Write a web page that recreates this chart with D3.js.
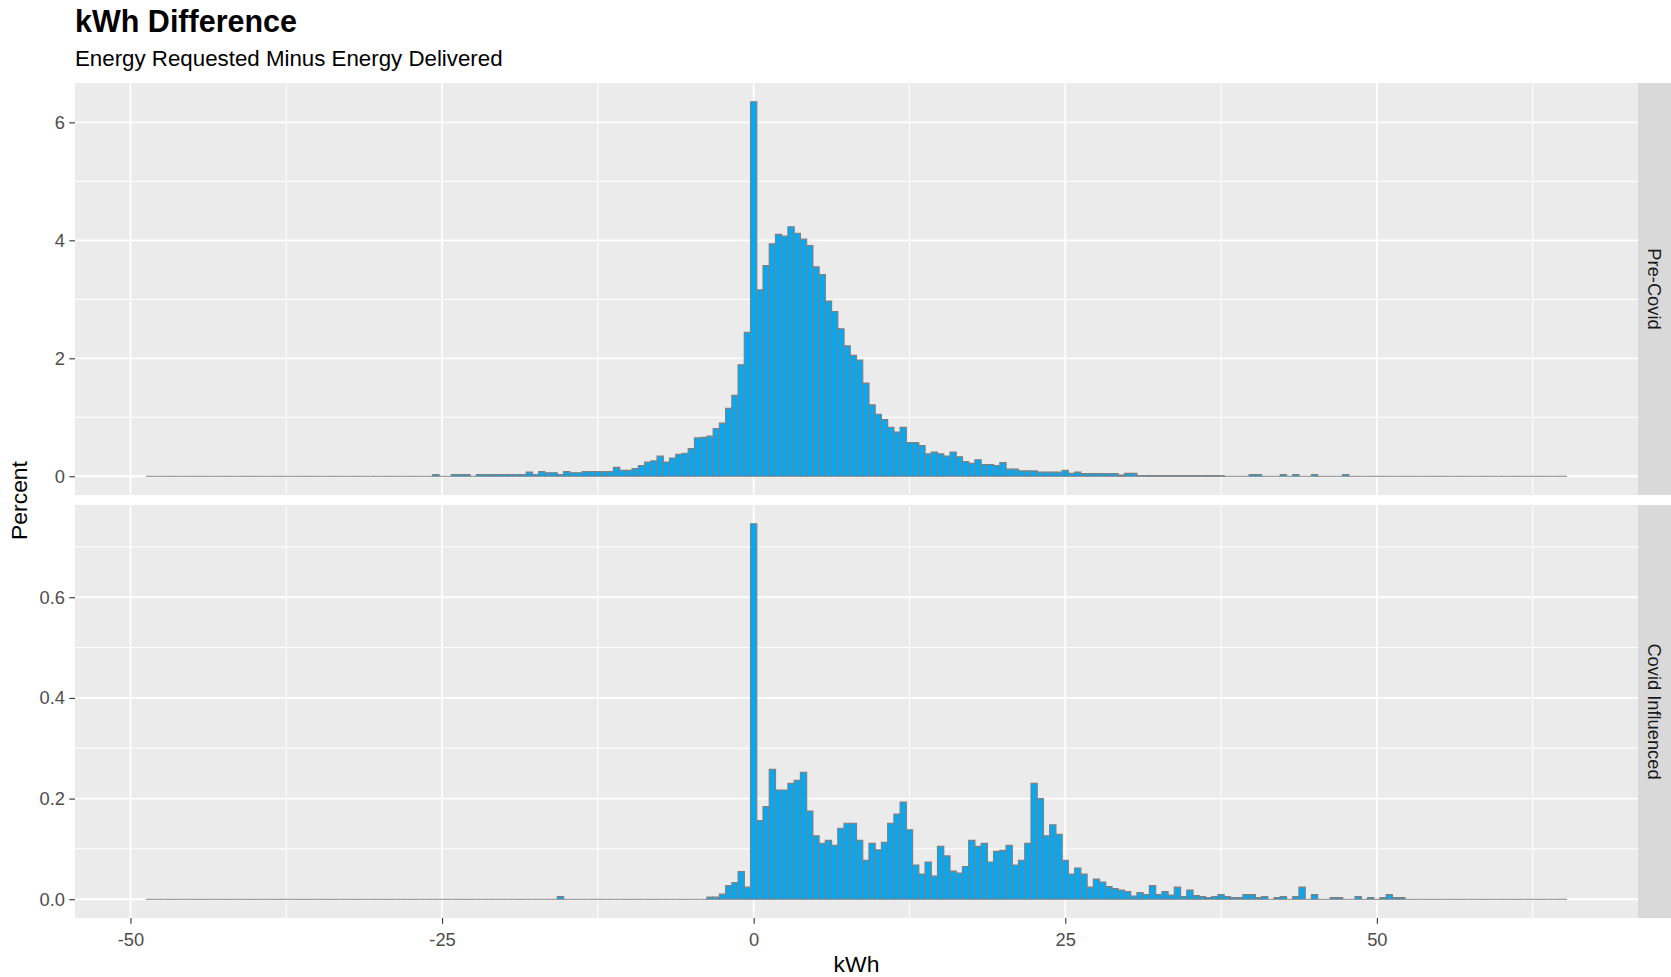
<!DOCTYPE html>
<html>
<head>
<meta charset="utf-8">
<script src="https://cdn.jsdelivr.net/npm/d3@7"></script>
<style>
  body { margin: 0; background: #fff; }
  text { font-family: "Liberation Sans", Arial, sans-serif; }
</style>
</head>
<body>
<svg id="chart"></svg>
<script>
// histogram bins: 0.5 kWh wide, first bin starts at -48.75
const binStart = -48.75;
const binWidth = 0.5;

// percent of sessions per bin, one line = 10 bins (5 kWh); first value of each line noted
const preCovid = [
  0, 0, 0, 0, 0, 0, 0, 0, 0, 0,                                   // -48.5
  0, 0, 0, 0, 0, 0, 0, 0, 0, 0,                                   // -43.5
  0, 0, 0, 0, 0, 0, 0, 0, 0, 0,                                   // -38.5
  0, 0, 0, 0, 0, 0, 0, 0, 0, 0,                                   // -33.5
  0, 0, 0, 0, 0, 0, 0.03, 0, 0, 0.03,                             // -28.5
  0.03, 0.03, 0, 0.03, 0.03, 0.03, 0.03, 0.03, 0.03, 0.03,        // -23.5
  0.03, 0.07, 0.03, 0.08, 0.06, 0.06, 0.03, 0.08, 0.06, 0.06,     // -18.5
  0.08, 0.08, 0.08, 0.08, 0.08, 0.15, 0.10, 0.10, 0.13, 0.18,     // -13.5
  0.24, 0.26, 0.34, 0.24, 0.31, 0.37, 0.39, 0.47, 0.65, 0.66,     // -8.5
  0.68, 0.81, 0.90, 1.15, 1.37, 1.89, 2.44, 6.35, 3.16, 3.57,     // -3.5
  3.94, 4.10, 4.07, 4.23, 4.12, 4.02, 3.91, 3.55, 3.42, 2.97,     // 1.5
  2.79, 2.50, 2.21, 2.05, 1.97, 1.58, 1.21, 1.05, 0.96, 0.83,     // 6.5
  0.75, 0.83, 0.57, 0.57, 0.52, 0.38, 0.41, 0.38, 0.34, 0.41,     // 11.5
  0.33, 0.25, 0.22, 0.28, 0.20, 0.20, 0.18, 0.23, 0.12, 0.12,     // 16.5
  0.09, 0.09, 0.09, 0.07, 0.07, 0.07, 0.07, 0.10, 0.05, 0.07,     // 21.5
  0.045, 0.045, 0.045, 0.045, 0.045, 0.045, 0.02, 0.05, 0.05, 0.01, // 26.5
  0.01, 0.01, 0.01, 0.01, 0.01, 0.01, 0.01, 0.01, 0.01, 0.01,     // 31.5
  0.01, 0.01, 0.01, 0, 0, 0, 0, 0.03, 0.03, 0,                    // 36.5
  0, 0, 0.03, 0, 0.03, 0, 0, 0.03, 0, 0,                          // 41.5
  0, 0, 0.03, 0, 0, 0, 0, 0, 0, 0,                                // 46.5
  0, 0, 0, 0, 0, 0, 0, 0, 0, 0,                                   // 51.5
  0, 0, 0, 0, 0, 0, 0, 0, 0, 0,                                   // 56.5
  0, 0, 0, 0, 0, 0, 0, 0                                          // 61.5
];

const covidInfluenced = [
  0, 0, 0, 0, 0, 0, 0, 0, 0, 0,                                   // -48.5
  0, 0, 0, 0, 0, 0, 0, 0, 0, 0,                                   // -43.5
  0, 0, 0, 0, 0, 0, 0, 0, 0, 0,                                   // -38.5
  0, 0, 0, 0, 0, 0, 0, 0, 0, 0,                                   // -33.5
  0, 0, 0, 0, 0, 0, 0, 0, 0, 0,                                   // -28.5
  0, 0, 0, 0, 0, 0, 0, 0, 0, 0,                                   // -23.5
  0, 0, 0, 0, 0, 0, 0.005, 0, 0, 0,                               // -18.5
  0, 0, 0, 0, 0, 0, 0, 0, 0, 0,                                   // -13.5
  0, 0, 0, 0, 0, 0, 0, 0, 0, 0,                                   // -8.5
  0.004, 0.004, 0.010, 0.027, 0.033, 0.055, 0.024, 0.746, 0.156, 0.184, // -3.5
  0.258, 0.217, 0.217, 0.230, 0.236, 0.252, 0.175, 0.126, 0.111, 0.117, // 1.5
  0.107, 0.141, 0.151, 0.151, 0.117, 0.077, 0.111, 0.098, 0.113, 0.151, // 6.5
  0.169, 0.193, 0.138, 0.068, 0.050, 0.074, 0.046, 0.105, 0.086, 0.056, // 11.5
  0.052, 0.065, 0.117, 0.105, 0.111, 0.074, 0.095, 0.097, 0.107, 0.068, // 16.5
  0.077, 0.111, 0.230, 0.200, 0.126, 0.148, 0.129, 0.077, 0.050, 0.062, // 21.5
  0.050, 0.024, 0.040, 0.034, 0.025, 0.021, 0.018, 0.015, 0.006, 0.013, // 26.5
  0.009, 0.027, 0.009, 0.015, 0.008, 0.024, 0.005, 0.018, 0.007, 0.005, // 31.5
  0.003, 0.005, 0.009, 0.005, 0.003, 0.003, 0.009, 0.009, 0.003, 0.005, // 36.5
  0, 0.003, 0.005, 0, 0.005, 0.024, 0, 0.009, 0, 0,               // 41.5
  0.003, 0.003, 0, 0, 0.005, 0, 0.003, 0, 0.003, 0.009,           // 46.5
  0.003, 0.003, 0, 0, 0, 0, 0, 0, 0, 0,                           // 51.5
  0, 0, 0, 0, 0, 0, 0, 0, 0, 0,                                   // 56.5
  0, 0, 0, 0, 0, 0, 0, 0                                          // 61.5
];

const facetNames = ["Pre-Covid", "Covid Influenced"];
const xTicks = [-50, -25, 0, 25, 50];
const preTicks = [0, 2, 4, 6];
const covidTicks = [0, 0.2, 0.4, 0.6];

const width = 1671, height = 977;
const panelLeft = 75, panelRight = 1638, stripW = 33;
const font = '"Liberation Sans", Arial, sans-serif';

const svg = d3.select('#chart')
    .attr('width', width)
    .attr('height', height);

// ggplot style 5% expansion
const binEnd = binStart + preCovid.length * binWidth;
const pad = (binEnd - binStart) * 0.05;
const x = d3.scaleLinear()
    .domain([binStart - pad, binEnd + pad])
    .range([panelLeft, panelRight]);

function minorsOf(ticks, domain) {
  let step = ticks[1] - ticks[0];
  return [ticks[0] - step / 2, ...ticks.map(t => t + step / 2)]
    .filter(v => v > domain[0] && v < domain[1]);
}

let panels = [
  { name: facetNames[0], values: preCovid, ticks: preTicks, fmt: d => String(d), top: 83, bottom: 495 },
  { name: facetNames[1], values: covidInfluenced, ticks: covidTicks, fmt: d3.format('.1f'), top: 505, bottom: 918 }
];

panels.forEach((p, pi) => {
  let max = d3.max(p.values);
  let y = d3.scaleLinear()
      .domain([-0.05 * max, 1.05 * max])
      .range([p.bottom, p.top]);

  let g = svg.append('g');

  g.append('rect')
      .attr('x', panelLeft).attr('y', p.top)
      .attr('width', panelRight - panelLeft).attr('height', p.bottom - p.top)
      .style('fill', '#EBEBEB');

  // minor grid
  g.selectAll('.ymin').data(minorsOf(p.ticks, y.domain()))
    .enter().append('line')
      .attr('x1', panelLeft).attr('x2', panelRight)
      .attr('y1', d => y(d)).attr('y2', d => y(d))
      .style('stroke', '#fff').style('stroke-width', 1);
  g.selectAll('.xmin').data(minorsOf(xTicks, x.domain()))
    .enter().append('line')
      .attr('x1', d => x(d)).attr('x2', d => x(d))
      .attr('y1', p.top).attr('y2', p.bottom)
      .style('stroke', '#fff').style('stroke-width', 1);

  // major grid
  g.selectAll('.ymaj').data(p.ticks)
    .enter().append('line')
      .attr('x1', panelLeft).attr('x2', panelRight)
      .attr('y1', d => y(d)).attr('y2', d => y(d))
      .style('stroke', '#fff').style('stroke-width', 1.8);
  g.selectAll('.xmaj').data(xTicks)
    .enter().append('line')
      .attr('x1', d => x(d)).attr('x2', d => x(d))
      .attr('y1', p.top).attr('y2', p.bottom)
      .style('stroke', '#fff').style('stroke-width', 1.8);

  // bars as closed paths so empty bins still show their outline
  g.selectAll('.bar').data(p.values)
    .enter().append('path')
      .attr('d', (d, i) => {
        let x0 = x(binStart + i * binWidth), x1 = x(binStart + (i + 1) * binWidth);
        return `M${x0},${y(0)}H${x1}V${y(d)}H${x0}Z`;
      })
      .style('fill', '#03A9F4')
      .style('stroke', '#808080')
      .style('stroke-width', 1.2)
      .style('stroke-linecap', 'square');

  // facet strip
  g.append('rect')
      .attr('x', panelRight).attr('y', p.top)
      .attr('width', stripW).attr('height', p.bottom - p.top)
      .style('fill', '#D9D9D9');
  g.append('text')
      .attr('transform', `translate(${panelRight + stripW / 2},${(p.top + p.bottom) / 2}) rotate(90)`)
      .attr('text-anchor', 'middle')
      .attr('dy', '0.35em')
      .style('font-size', '18.3px')
      .style('fill', '#1A1A1A')
      .text(p.name);

  // y axis
  let yAxis = d3.axisLeft(y)
      .tickValues(p.ticks)
      .tickFormat(p.fmt)
      .tickSize(5.7)
      .tickPadding(4.4);
  let ya = g.append('g')
      .attr('transform', `translate(${panelLeft},0)`)
      .call(yAxis);
  ya.select('.domain').remove();
  ya.selectAll('line').style('stroke', '#333333').style('stroke-width', 1.1);
  ya.selectAll('text')
      .style('font-size', '18.3px')
      .style('fill', '#4D4D4D')
      .style('font-family', font);

  if (pi === panels.length - 1) {
    let xAxis = d3.axisBottom(x)
        .tickValues(xTicks)
        .tickFormat(d => String(d))
        .tickSize(5.7)
        .tickPadding(9.5);
    let xa = g.append('g')
        .attr('transform', `translate(0,${p.bottom})`)
        .call(xAxis);
    xa.select('.domain').remove();
    xa.selectAll('line').style('stroke', '#333333').style('stroke-width', 1.1);
    xa.selectAll('text')
        .style('font-size', '18.3px')
        .style('fill', '#4D4D4D')
        .style('font-family', font);
  }
});

// titles
svg.append('text')
    .attr('x', panelLeft).attr('y', 32)
    .style('font-size', '30.5px')
    .style('font-weight', 'bold')
    .style('fill', '#000')
    .text('kWh Difference');

svg.append('text')
    .attr('x', panelLeft).attr('y', 66)
    .style('font-size', '22.3px')
    .style('fill', '#000')
    .text('Energy Requested Minus Energy Delivered');

svg.append('text')
    .attr('x', (panelLeft + panelRight) / 2).attr('y', 972)
    .attr('text-anchor', 'middle')
    .style('font-size', '22.9px')
    .style('fill', '#000')
    .text('kWh');

svg.append('text')
    .attr('transform', `translate(27,${(83 + 918) / 2}) rotate(-90)`)
    .attr('text-anchor', 'middle')
    .style('font-size', '22.9px')
    .style('fill', '#000')
    .text('Percent');
</script>
</body>
</html>
